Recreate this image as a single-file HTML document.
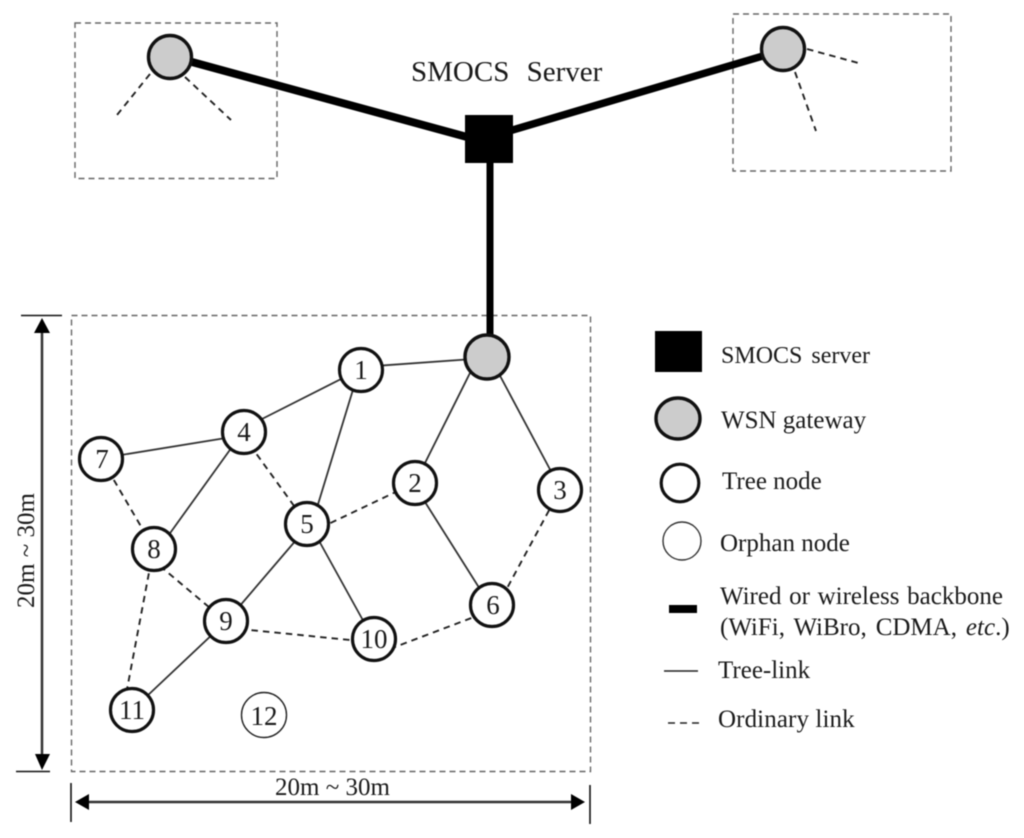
<!DOCTYPE html>
<html><head><meta charset="utf-8"><style>
html,body{margin:0;padding:0;background:#fff}
svg{display:block;filter:blur(.45px)}
text{font-family:"Liberation Serif",serif;fill:#1a1a1a}
.n{font-size:27px;text-anchor:middle}
.l{font-size:25px}
.box{fill:none;stroke:#666;stroke-width:1.4;stroke-dasharray:6 4}
.t{stroke:#333;stroke-width:1.8;fill:none}
.d{stroke:#222;stroke-width:1.9;fill:none;stroke-dasharray:6.500 5}
.b{stroke:#000;fill:none}
.g{fill:#ccc;stroke:#111;stroke-width:3.4}
.c{fill:#fff;stroke:#111;stroke-width:3.2}
</style></head><body>
<svg width="1024" height="838" viewBox="0 0 1024 838" xmlns="http://www.w3.org/2000/svg">
<rect class="box" x="75" y="23" width="202" height="155.500"/>
<rect class="box" x="733" y="14" width="218" height="157"/>
<rect class="box" x="71.500" y="315.500" width="519" height="456"/>

<path class="b" stroke-width="8" d="M170 56L489 143"/>
<path class="b" stroke-width="7.500" d="M489 137L783 50"/>
<path class="b" stroke-width="7" d="M490 160V357"/>
<rect x="465" y="115" width="48" height="48" fill="#000"/>
<path class="d" d="M150 74L117 115M185 77L231 120M807 49L862 64M795 72L816 131"/>
<circle class="g" cx="170" cy="57" r="21.500"/>
<circle class="g" cx="783" cy="49" r="21.500"/>
<text class="l" x="411" y="81" style="font-size:29px;word-spacing:10px">SMOCS Server</text>

<path class="t" d="M361 367L487 358M478 357L415 483M490 357L561 490M359 370L312 524M345 377L258 421M232 437L115 456M232 447L168 536"/>
<path class="t" d="M413 483L490 605M297 539L238 608M318 539L365 624M216 631L146 697"/>
<path class="d" d="M560 490L498 605M482 614L387 650M320 528L402 489M250 445L297 510M108 470L146 535M160 566L216 613M240 629L360 641M151 562L125 700"/>

<circle class="g" cx="487" cy="357" r="22"/>
<g class="c">
<circle cx="361" cy="370" r="21.500"/><circle cx="244" cy="432" r="21.500"/>
<circle cx="101" cy="459" r="21.500"/><circle cx="415" cy="483" r="21.500"/>
<circle cx="560" cy="490" r="21.500"/><circle cx="307" cy="524" r="21.500"/>
<circle cx="154" cy="549" r="21.500"/><circle cx="492" cy="605" r="21.500"/>
<circle cx="226" cy="621" r="21.500"/><circle cx="374" cy="639" r="21.500"/>
<circle cx="132" cy="710" r="21.500"/>
</g>
<circle cx="264" cy="715" r="22.500" fill="#fff" stroke="#222" stroke-width="1.400"/>
<text class="n" x="361" y="379">1</text><text class="n" x="244" y="441">4</text>
<text class="n" x="102" y="468">7</text><text class="n" x="415" y="492">2</text>
<text class="n" x="560" y="499">3</text><text class="n" x="307" y="533">5</text>
<text class="n" x="154" y="558">8</text><text class="n" x="493" y="614">6</text>
<text class="n" x="226" y="630">9</text><text class="n" x="374" y="648">10</text>
<text class="n" x="132" y="719">11</text><text class="n" x="264" y="725">12</text>

<path d="M42 330V758" stroke="#333" stroke-width="2.500" fill="none"/>
<path d="M21 315.500H62M16 771.500H50" stroke="#111" stroke-width="1.600" fill="none"/>
<path d="M42 318L34 333H50ZM35 754H50L42 770Z" fill="#000"/>
<text class="l" transform="translate(34 608) rotate(-90)" x="0" y="0">20m ~ 30m</text>

<path d="M85 802H575" stroke="#333" stroke-width="2.500" fill="none"/>
<path d="M71 783V822M590 785V824" stroke="#111" stroke-width="1.600" fill="none"/>
<path d="M75 802L89 794V810ZM585 802L571 794V810Z" fill="#000"/>
<text class="l" x="275" y="795">20m ~ 30m</text>

<rect x="655" y="331" width="47" height="41" fill="#000"/>
<ellipse class="g" cx="678" cy="418.500" rx="22" ry="20.500"/>
<circle class="c" cx="680" cy="483" r="18.800"/>
<circle cx="682" cy="541" r="19" fill="#fff" stroke="#333" stroke-width="1.400"/>
<rect x="669" y="605" width="28" height="8" fill="#000"/>
<path d="M664 671H698" stroke="#222" stroke-width="1.600"/>
<path d="M668 723H702" stroke="#222" stroke-width="1.600" stroke-dasharray="7 5"/>
<text class="l" x="721" y="363" style="font-size:24px;word-spacing:3px">SMOCS server</text>
<text class="l" x="721" y="428">WSN gateway</text>
<text class="l" x="722" y="489">Tree node</text>
<text class="l" x="720" y="551">Orphan node</text>
<text class="l" x="720" y="604" style="word-spacing:1.400px">Wired or wireless backbone</text>
<text class="l" x="720" y="635" style="word-spacing:2.700px">(WiFi, WiBro, CDMA, <tspan font-style="italic">etc</tspan>.)</text>
<text class="l" x="718" y="678">Tree-link</text>
<text class="l" x="718" y="727" style="letter-spacing:.1px">Ordinary link</text>
</svg>
</body></html>
